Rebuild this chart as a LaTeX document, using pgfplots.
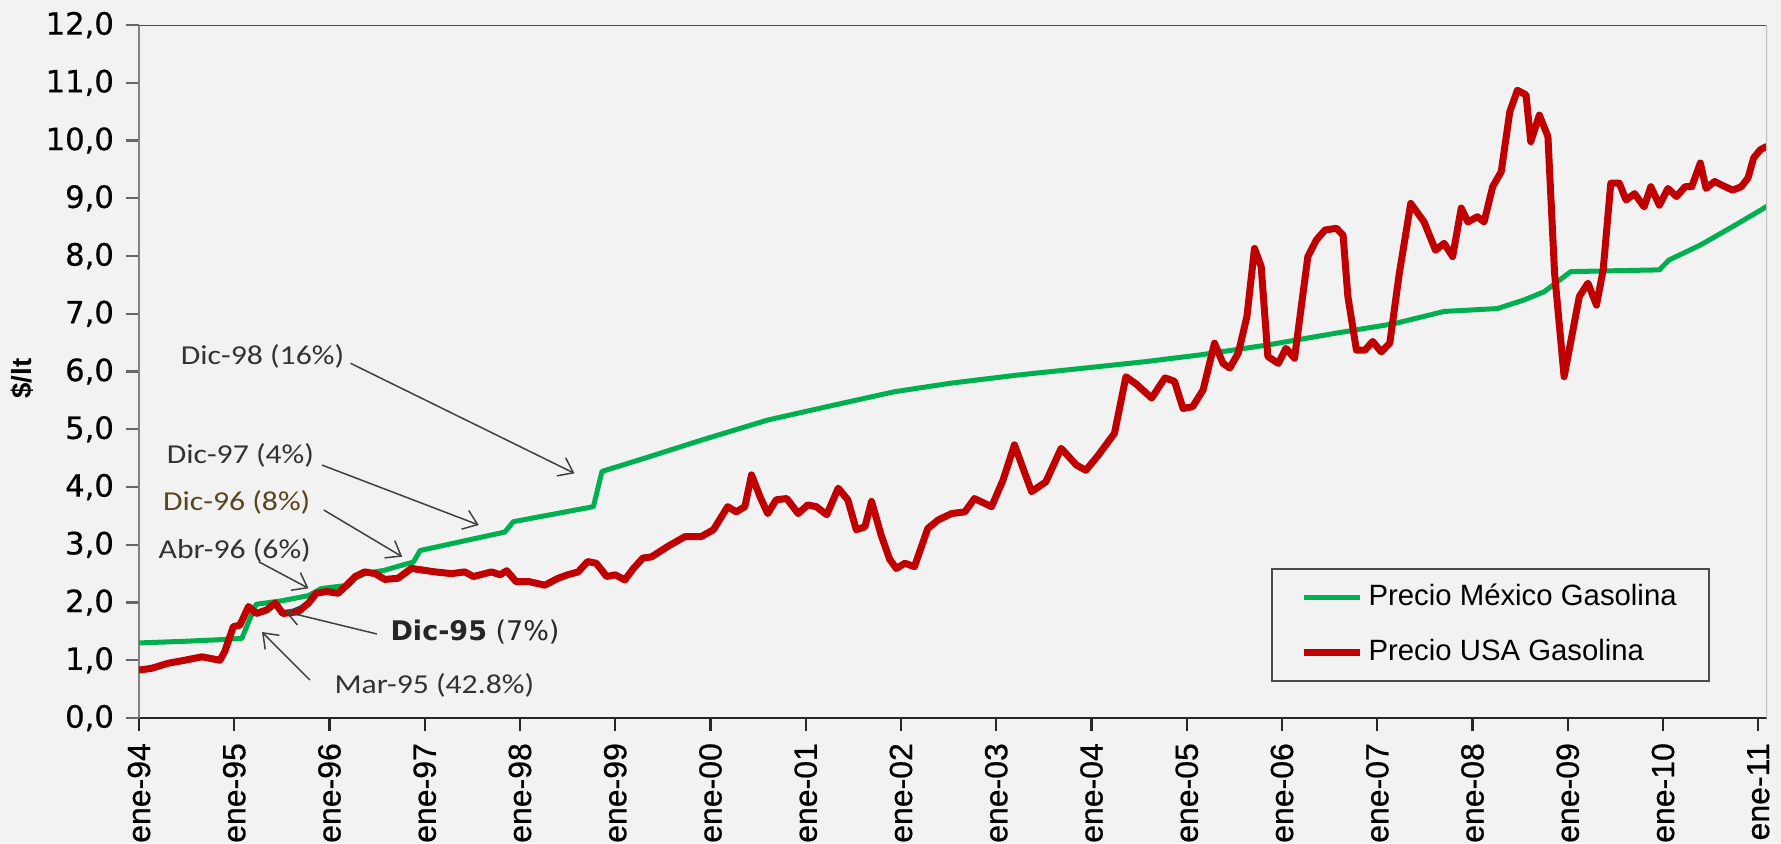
\documentclass[border=0pt]{standalone}
\usepackage{pgfplots}
\pgfplotsset{compat=1.18}
\usepackage{fontspec}
\setmainfont{Liberation Sans}
\newfontfamily\dejavu{DejaVu Sans}
\newfontfamily\dejavutick{DejaVu Sans}[FakeBold=0.6]
\newfontfamily\arialtick{Liberation Sans}[FakeBold=0.6]
\newfontfamily\calib{Carlito}[FakeStretch=1.16]
\usetikzlibrary{arrows.meta}
\definecolor{bg}{RGB}{242,242,242}
\definecolor{mxgreen}{RGB}{0,176,80}
\definecolor{usred}{RGB}{192,0,0}

\pgfplotstableread{
x y
1994.00 1.30
1994.50 1.33
1994.90 1.36
1995.08 1.38
1995.16 1.70
1995.23 1.97
1995.50 2.03
1995.78 2.12
1995.91 2.24
1996.00 2.26
1996.20 2.30
1996.27 2.42
1996.37 2.50
1996.58 2.56
1996.79 2.66
1996.88 2.70
1996.95 2.90
1997.84 3.22
1997.93 3.40
1998.77 3.66
1998.86 4.27
1999.31 4.50
1999.90 4.81
2000.60 5.16
2001.30 5.42
2001.93 5.65
2002.53 5.80
2003.23 5.94
2003.93 6.06
2004.56 6.17
2005.15 6.29
2005.85 6.46
2006.55 6.66
2007.18 6.83
2007.70 7.04
2008.26 7.09
2008.54 7.24
2008.75 7.38
2009.03 7.73
2009.96 7.76
2010.06 7.93
2010.39 8.19
2010.73 8.51
2011.09 8.86
}\mexico

\pgfplotstableread{
x y
1994.00 0.83
1994.13 0.86
1994.31 0.95
1994.48 1.00
1994.66 1.06
1994.85 1.00
1994.90 1.15
1994.99 1.58
1995.06 1.61
1995.15 1.93
1995.23 1.81
1995.34 1.87
1995.43 1.99
1995.51 1.81
1995.67 1.84
1995.78 1.99
1995.86 2.16
1995.97 2.19
1996.09 2.16
1996.18 2.30
1996.27 2.45
1996.37 2.53
1996.48 2.50
1996.58 2.40
1996.72 2.42
1996.86 2.59
1997.11 2.53
1997.28 2.50
1997.42 2.53
1997.51 2.45
1997.70 2.53
1997.79 2.48
1997.86 2.55
1997.96 2.36
1998.10 2.36
1998.26 2.30
1998.40 2.42
1998.50 2.48
1998.61 2.53
1998.71 2.71
1998.80 2.68
1998.91 2.45
1999.00 2.48
1999.10 2.39
1999.19 2.59
1999.29 2.77
1999.38 2.79
1999.55 2.97
1999.73 3.14
1999.90 3.14
2000.03 3.26
2000.18 3.66
2000.27 3.57
2000.36 3.66
2000.43 4.21
2000.52 3.83
2000.60 3.54
2000.69 3.78
2000.80 3.80
2000.92 3.54
2001.02 3.69
2001.11 3.66
2001.22 3.52
2001.34 3.98
2001.44 3.78
2001.53 3.26
2001.62 3.31
2001.69 3.75
2001.79 3.17
2001.88 2.75
2001.95 2.59
2002.04 2.68
2002.14 2.62
2002.28 3.28
2002.39 3.43
2002.53 3.54
2002.67 3.57
2002.77 3.80
2002.95 3.66
2003.07 4.12
2003.19 4.73
2003.37 3.92
2003.52 4.09
2003.68 4.67
2003.84 4.38
2003.94 4.29
2004.07 4.55
2004.24 4.93
2004.36 5.91
2004.47 5.78
2004.63 5.54
2004.77 5.89
2004.87 5.83
2004.96 5.36
2005.06 5.39
2005.17 5.68
2005.29 6.49
2005.38 6.14
2005.45 6.06
2005.54 6.32
2005.63 6.95
2005.71 8.13
2005.78 7.82
2005.85 6.26
2005.96 6.14
2006.04 6.40
2006.13 6.23
2006.27 7.99
2006.36 8.28
2006.45 8.45
2006.57 8.48
2006.64 8.36
2006.69 7.30
2006.78 6.37
2006.87 6.37
2006.95 6.52
2007.04 6.34
2007.13 6.49
2007.23 7.70
2007.35 8.91
2007.49 8.59
2007.61 8.10
2007.70 8.22
2007.79 7.99
2007.88 8.83
2007.95 8.59
2008.05 8.68
2008.12 8.59
2008.21 9.20
2008.30 9.46
2008.39 10.50
2008.47 10.87
2008.56 10.79
2008.61 9.98
2008.70 10.44
2008.79 10.07
2008.86 7.70
2008.96 5.91
2009.12 7.30
2009.21 7.53
2009.30 7.15
2009.37 7.76
2009.45 9.26
2009.54 9.26
2009.61 8.97
2009.70 9.08
2009.80 8.85
2009.87 9.20
2009.96 8.88
2010.05 9.17
2010.14 9.03
2010.23 9.20
2010.30 9.20
2010.39 9.61
2010.45 9.17
2010.54 9.29
2010.65 9.20
2010.73 9.14
2010.82 9.20
2010.89 9.35
2010.95 9.70
2011.02 9.84
2011.09 9.90
}\usa

\begin{document}
\begin{tikzpicture}
\fill[bg] (-41.7pt,-37.5pt) rectangle (492.6pt,215.4pt);
\begin{axis}[
  at={(0pt,0pt)}, anchor=south west,
  width=488.4pt, height=207.9pt, scale only axis,
  xmin=1994, xmax=2011.09, ymin=0, ymax=12,
  axis x line*=bottom, axis y line*=left,
  x axis line style={black!85, line width=0.7pt},
  y axis line style={black!50, line width=0.7pt},
  tick align=outside, major tick length=4pt,
  xtick style={black!85, line width=0.7pt},
  ytick style={black!60, line width=0.7pt},
  xtick={1994,...,2011},
  xticklabels={ene-94,ene-95,ene-96,ene-97,ene-98,ene-99,ene-00,ene-01,ene-02,ene-03,ene-04,ene-05,ene-06,ene-07,ene-08,ene-09,ene-10,ene-11},
  xticklabel style={rotate=90, anchor=east, font=\arialtick\fontsize{9.6}{10}\selectfont},
  ytick={0,...,12},
  /pgf/number format/assume math mode=true,
  yticklabel style={/pgf/number format/fixed, /pgf/number format/fixed zerofill, /pgf/number format/precision=1, /pgf/number format/use comma, font=\dejavutick\fontsize{9.2}{10}\selectfont},
  ylabel={\$/lt},
  ylabel style={at={(axis description cs:-0.072,0.49)}, anchor=center, font=\bfseries\fontsize{8.3}{9}\selectfont},
  legend style={at={(axis description cs:0.965,0.052)}, anchor=south east,
    draw=black!70, line width=0.6pt, fill=bg, font=\fontsize{8.8}{10}\selectfont,
    inner xsep=8.7pt, inner ysep=3.5pt, row sep=6.8pt,
    nodes={inner sep=1pt},
    /tikz/every odd column/.append style={column sep=0.4pt}},
  legend cell align=left,
  legend image code/.code={\draw[#1] (0pt,0pt) -- (16.8pt,0pt);},
]
\addplot[mxgreen, line width=1.5pt, line join=round] table[x=x,y=y] {\mexico};
\addlegendentry{Precio México Gasolina\hspace{3pt}}
\addplot[usred, line width=2.1pt, line join=round] table[x=x,y=y] {\usa};
\addlegendentry{Precio USA Gasolina}

\draw[black!70, line width=0.7pt] (rel axis cs:0,1) -- (rel axis cs:1,1);
\draw[black!25, line width=0.7pt] (rel axis cs:1,0) -- (rel axis cs:1,1);

\tikzset{ann/.style={font=\calib\fontsize{8.2}{9}\selectfont, text=black!80, inner sep=0pt},
         arr/.style={black!75, line width=0.45pt, -{Straight Barb[length=4pt,width=6pt]}}}
\node[ann] at (axis cs:1995.297,6.256) {Dic-98 (16\%)};
\draw[arr] (axis cs:1996.221,6.142) -- (axis cs:1998.571,4.237);
\node[ann] at (axis cs:1995.065,4.545) {Dic-97 (4\%)};
\draw[arr] (axis cs:1995.920,4.381) -- (axis cs:1997.567,3.342);
\node[ann, text={rgb,255:red,90;green,70;blue,30}] at (axis cs:1995.026,3.728) {Dic-96 (8\%)};
\draw[arr] (axis cs:1995.940,3.602) -- (axis cs:1996.763,2.793);
\node[ann] at (axis cs:1995.005,2.897) {Abr-96 (6\%)};
\draw[arr] (axis cs:1995.257,2.706) -- (axis cs:1995.780,2.246);
\node[anchor=west, inner sep=0pt, font=\dejavu\fontsize{8.1}{9}\selectfont, text=black!85] at (axis cs:1996.634,1.489) {\textbf{Dic-95} (7\%)};
\draw[arr] (axis cs:1996.497,1.455) -- (axis cs:1995.538,1.841);
\node[ann] at (axis cs:1997.101,0.563) {Mar-95 (42.8\%)};
\draw[arr] (axis cs:1995.794,0.658) -- (axis cs:1995.291,1.489);
\end{axis}
\pgfresetboundingbox
\useasboundingbox (-41.7pt,-37.5pt) rectangle (492.6pt,215.4pt);
\end{tikzpicture}
\end{document}
